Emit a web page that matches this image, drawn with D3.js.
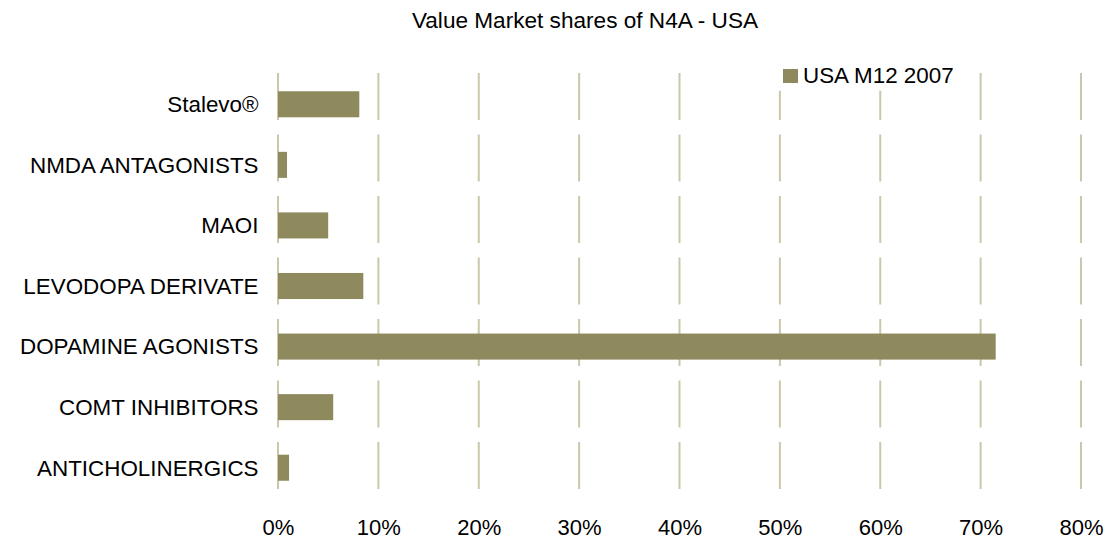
<!DOCTYPE html>
<html>
<head>
<meta charset="utf-8">
<script src="https://cdn.jsdelivr.net/npm/d3@7"></script>
<style>
  html, body { margin: 0; padding: 0; background: #fff; }
  svg { display: block; font-family: "Liberation Sans", Arial, sans-serif; }
</style>
</head>
<body>
<svg id="chart" width="1116" height="540"></svg>
<script>
// Market share by drug class, USA M12 2007 (fraction of total value)
const categories = [
  "Stalevo\u00AE",
  "NMDA ANTAGONISTS",
  "MAOI",
  "LEVODOPA DERIVATE",
  "DOPAMINE AGONISTS",
  "COMT INHIBITORS",
  "ANTICHOLINERGICS"
];
const shares = [0.081, 0.009, 0.050, 0.085, 0.715, 0.055, 0.011];
const tickValues = [0, 0.1, 0.2, 0.3, 0.4, 0.5, 0.6, 0.7, 0.8];
const seriesName = "USA M12 2007";
const chartTitle = "Value Market shares of N4A - USA";

const barColor = "#8e8a5e";
const gridColor = "#cbc7aa";

const svg = d3.select("#chart");

const x = d3.scaleLinear().domain([0, 0.8]).range([278, 1081]);

// bar positions
const y = d3.scaleBand()
  .domain(categories)
  .range([74, 498])
  .paddingInner(0.57)
  .paddingOuter(0.285);

// gridline segments run per category row, with small breaks between rows
const yGrid = d3.scaleBand()
  .domain(categories)
  .range([73, 489])
  .paddingInner(0.236)
  .paddingOuter(0);

// vertical gridlines
const grid = svg.append("g");
tickValues.forEach(t => {
  grid.selectAll(null)
    .data(categories)
    .enter()
    .append("line")
    .attr("x1", x(t))
    .attr("x2", x(t))
    .attr("y1", d => yGrid(d))
    .attr("y2", d => yGrid(d) + yGrid.bandwidth())
    .attr("stroke", gridColor)
    .attr("stroke-width", 2);
});

// bars
svg.append("g")
  .selectAll("rect")
  .data(categories.map((c, i) => ({ c, v: shares[i] })))
  .enter()
  .append("rect")
  .attr("x", x(0))
  .attr("y", d => y(d.c))
  .attr("width", d => x(d.v) - x(0))
  .attr("height", y.bandwidth())
  .attr("fill", barColor);

// category labels
const yAxis = d3.axisLeft(y).tickSize(0).tickPadding(0);
const yAxisG = svg.append("g")
  .attr("transform", `translate(${x(0) - 19.5},0)`)
  .call(yAxis);
yAxisG.select(".domain").remove();
yAxisG.selectAll("text")
  .attr("font-family", "'Liberation Sans', Arial, sans-serif")
  .attr("font-size", 22.4)
  .attr("fill", "#000")
  .attr("dy", "0.35em");

// percentage labels along the bottom
const xAxis = d3.axisBottom(x)
  .tickValues(tickValues)
  .tickFormat(d3.format(".0%"))
  .tickSize(0)
  .tickPadding(0);
const xAxisG = svg.append("g")
  .attr("transform", "translate(0,519)")
  .call(xAxis);
xAxisG.select(".domain").remove();
xAxisG.selectAll("text")
  .attr("font-family", "'Liberation Sans', Arial, sans-serif")
  .attr("font-size", 22)
  .attr("fill", "#000")
  .attr("dy", "0.71em");

// legend (white box sits over the gridlines)
const legend = svg.append("g");
legend.append("rect")
  .attr("x", 774).attr("y", 56)
  .attr("width", 192).attr("height", 34.7)
  .attr("fill", "#fff");
legend.append("rect")
  .attr("x", 783).attr("y", 69)
  .attr("width", 15).attr("height", 14)
  .attr("fill", barColor);
legend.append("text")
  .attr("x", 803).attr("y", 83.3)
  .attr("font-size", 22.4)
  .attr("fill", "#000")
  .text(seriesName);

// title
svg.append("text")
  .attr("x", 585).attr("y", 28.3)
  .attr("text-anchor", "middle")
  .attr("font-size", 22.6)
  .attr("fill", "#000")
  .text(chartTitle);
</script>
</body>
</html>
